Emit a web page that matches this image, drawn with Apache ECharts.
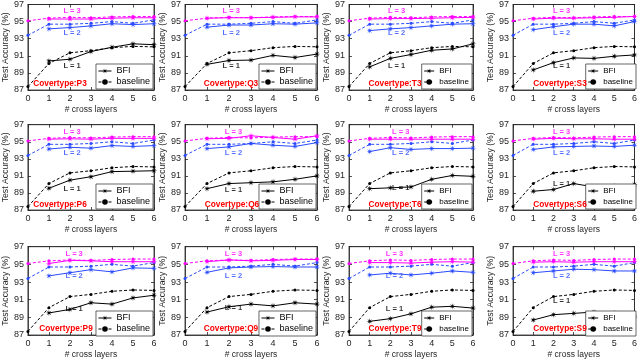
<!DOCTYPE html>
<html><head><meta charset="utf-8">
<script src="https://cdn.jsdelivr.net/npm/echarts@6/dist/echarts.min.js"></script>
<style>html,body{margin:0;padding:0;background:#fff}#c{width:640px;height:360px}</style>
</head><body><div id="c"></div>
<script>
// ---- data ----
const xTicks = [0, 1, 2, 3, 4, 5, 6];
const yTicks = [87, 89, 91, 93, 95, 97];
const panelNames = ['Covertype:P3','Covertype:Q3','Covertype:T3','Covertype:S3',
                    'Covertype:P6','Covertype:Q6','Covertype:T6','Covertype:S6',
                    'Covertype:P9','Covertype:Q9','Covertype:T9','Covertype:S9'];
const levelNames = ['L = 1', 'L = 2', 'L = 3'];
// baseline (x = 0..6), same in all panels
const baselineL1 = [87.4, 90.1, 91.35, 91.6, 91.95, 92.1, 92.05];
const baselineL2 = [93.4, 94.7, 94.7, 94.8, 95.0, 94.8, 95.2];
const baselineL3 = [95.1, 95.4, 95.5, 95.45, 95.55, 95.6, 95.6];
// BFI (x = 1..6), one row per panel
const bfiL1 = [
  [90.4, 90.6, 91.5, 92.0, 92.4, 92.3],
  [90.0, 90.45, 90.5, 91.05, 90.8, 91.2],
  [89.7, 90.7, 91.15, 91.65, 91.8, 92.4],
  [89.35, 90.2, 90.75, 90.7, 90.95, 91.1],
  [89.55, 90.5, 90.9, 91.5, 91.55, 91.6],
  [89.5, 90.1, 90.2, 90.3, 90.6, 91.0],
  [89.5, 89.6, 89.7, 90.6, 91.05, 90.95],
  [89.2, 89.4, 90.1, 89.7, 89.8, 90.0],
  [89.5, 89.9, 90.65, 90.5, 91.2, 91.5],
  [89.6, 90.2, 90.5, 90.3, 90.65, 90.5],
  [88.55, 88.85, 89.4, 90.15, 90.25, 90.05],
  [88.7, 89.3, 89.45, 89.6, 89.5, 89.05]
];
const bfiL2 = [
  [94.15, 94.3, 94.5, 94.75, 94.65, 94.75],
  [94.35, 94.6, 94.6, 94.75, 94.7, 94.85],
  [93.95, 94.15, 94.3, 94.5, 94.7, 94.75],
  [94.05, 94.4, 94.7, 94.7, 94.5, 95.0],
  [94.15, 94.35, 94.25, 94.55, 94.45, 94.55],
  [94.2, 94.4, 94.8, 94.6, 94.45, 94.9],
  [93.85, 94.3, 94.1, 94.2, 94.2, 94.25],
  [94.1, 94.4, 94.45, 94.5, 94.45, 94.6],
  [93.7, 94.05, 94.4, 94.15, 94.6, 94.55],
  [94.1, 94.6, 94.7, 94.75, 94.7, 94.7],
  [93.8, 94.0, 93.8, 94.0, 94.25, 94.1],
  [94.05, 94.25, 94.45, 94.4, 94.25, 94.25]
];
const bfiL3 = [
  [95.3, 95.3, 95.3, 95.4, 95.45, 95.45],
  [95.4, 95.45, 95.45, 95.5, 95.55, 95.55],
  [95.3, 95.35, 95.35, 95.4, 95.45, 95.5],
  [95.3, 95.4, 95.4, 95.45, 95.5, 95.6],
  [95.3, 95.35, 95.3, 95.4, 95.4, 95.4],
  [95.35, 95.4, 95.7, 95.5, 95.3, 95.7],
  [95.3, 95.3, 95.3, 95.3, 95.3, 95.3],
  [95.3, 95.4, 95.35, 95.35, 95.3, 95.3],
  [95.1, 95.45, 95.4, 95.3, 95.3, 95.3],
  [95.3, 95.5, 95.4, 95.45, 95.55, 95.55],
  [95.2, 95.2, 95.15, 95.25, 95.3, 95.25],
  [95.25, 95.3, 95.25, 95.3, 95.3, 95.3]
];
// annotation anchors (data units)
const labelX = [2.1, 2.1, 2.3, 2.4, 2.1, 2.2, 2.5, 2.4, 2.2, 2.2, 2.2, 2.4];
const labelYL1 = [89.8, 89.8, 89.8, 89.8, 89.5, 89.4, 89.6, 90.0, 89.9, 90.1, 90.0, 90.9];
const labelYL2 = 93.7;
const labelYL3 = 96.2;

// ---- layout / style ----
const rowTop = [4, 124.7, 246.7];
const rowH = [86, 85.3, 90.3];
const colLeft = [21, 185, 349, 513];
const colW = [133, 132, 124, 124];
const legFont = [9, 9, 8, 8];
const legItemW = [13, 13, 10, 10];
const titleDX = [39, 46, 46, 47, 39, 47, 46, 47, 45, 46, 46, 47];
const titleDY = [6.5, 5, 8.5];
const colors = ['#000000', '#2a4bff', '#ff00ff'];
const axisCol = '#262626';
const FONT = '"Liberation Sans", Arial, Helvetica, sans-serif';

function starPath(n, rIn) {
  let d = '';
  for (let k = 0; k < 2 * n; k++) {
    const a = k * Math.PI / n - Math.PI / 2;
    const r = (k % 2 === 0) ? 1 : rIn;
    d += (k === 0 ? 'M' : 'L') + (r * Math.cos(a)).toFixed(3) + ',' + (r * Math.sin(a)).toFixed(3);
  }
  return 'path://' + d + 'Z';
}
const STAR = starPath(8, 0.3);

const grids = [], xAxes = [], yAxes = [], series = [], titles = [], legends = [];
const baselines = [baselineL1, baselineL2, baselineL3];
const bfis = [bfiL1, bfiL2, bfiL3];

for (let i = 0; i < 12; i++) {
  const r = Math.floor(i / 4), c = i % 4;
  const left = colLeft[c], top = rowTop[r], w = colW[c], h = rowH[r];
  grids.push({ left, top, width: w, height: h, show: true, borderColor: axisCol, borderWidth: 0.8, backgroundColor: 'transparent' });
  const lineS = { color: axisCol, width: 0.8 };
  xAxes.push({
    gridIndex: i, type: 'value', min: xTicks[0], max: xTicks[xTicks.length - 1], interval: 1,
    axisLine: { show: true, onZero: false, lineStyle: lineS },
    axisTick: { inside: true, length: 3, lineStyle: lineS },
    splitLine: { show: false },
    axisLabel: { fontSize: 9, margin: 4, color: axisCol, fontFamily: FONT },
    name: '# cross layers', nameLocation: 'middle', nameGap: 15,
    nameTextStyle: { fontSize: 8.5, color: axisCol, fontFamily: FONT }
  });
  xAxes.push({
    gridIndex: i, type: 'value', position: 'top', min: 0, max: 6, interval: 1,
    axisLine: { show: true, onZero: false, lineStyle: lineS },
    axisTick: { inside: true, length: 3, lineStyle: lineS },
    splitLine: { show: false }, axisLabel: { show: false }
  });
  yAxes.push({
    gridIndex: i, type: 'value', min: yTicks[0], max: yTicks[yTicks.length - 1], interval: 2,
    axisLine: { show: true, onZero: false, lineStyle: lineS },
    axisTick: { inside: true, length: 3, lineStyle: lineS },
    splitLine: { show: false },
    axisLabel: { fontSize: 9, margin: 4, color: axisCol, fontFamily: FONT },
    name: 'Test Accuracy (%)', nameLocation: 'middle', nameGap: 12,
    nameTextStyle: { fontSize: 8.7, color: axisCol, fontFamily: FONT }
  });
  yAxes.push({
    gridIndex: i, type: 'value', position: 'right', min: 87, max: 97, interval: 2,
    axisLine: { show: true, onZero: false, lineStyle: lineS },
    axisTick: { inside: true, length: 3, lineStyle: lineS },
    splitLine: { show: false }, axisLabel: { show: false }
  });
  const xi = 2 * i, yi = 2 * i;
  for (let L = 0; L < 3; L++) {
    const col = colors[L];
    series.push({
      type: 'line', name: 'baseline', xAxisIndex: xi, yAxisIndex: yi,
      data: baselines[L].map((v, k) => [xTicks[k], v]),
      symbol: 'circle', symbolSize: 3, showSymbol: true,
      lineStyle: { color: col, width: 1, type: [3, 2] },
      itemStyle: { color: col, borderWidth: 0 },
      silent: true, animation: false, z: 2
    });
    series.push({
      type: 'line', name: 'BFI', xAxisIndex: xi, yAxisIndex: yi,
      data: bfis[L][i].map((v, k) => [xTicks[k + 1], v]),
      symbol: STAR, symbolSize: 6.5, showSymbol: true,
      lineStyle: { color: col, width: 1 },
      itemStyle: { color: col },
      silent: true, animation: false, z: 3
    });
  }
  const lblPts = [[labelX[i], labelYL1[i]], [labelX[i], labelYL2], [labelX[i], labelYL3]];
  for (let L = 0; L < 3; L++) {
    series.push({
      type: 'scatter', name: 'lbl', xAxisIndex: xi, yAxisIndex: yi,
      data: [lblPts[L]], symbolSize: 0, silent: true, animation: false, z: 5,
      label: { show: true, position: 'inside', formatter: levelNames[L], color: colors[L],
               fontSize: 7.5, fontWeight: 'bold', fontFamily: FONT }
    });
  }
  titles.push({
    text: panelNames[i], left: left + titleDX[i], top: top + h - titleDY[r] - 5,
    textAlign: 'center', padding: 0,
    textStyle: { fontSize: 8.3, fontWeight: 'bold', color: '#ff0000', fontFamily: FONT, lineHeight: 10 }
  });
  legends.push({
    orient: 'vertical', right: 640 - (left + w) + 1, bottom: 360 - (top + h) + 1,
    backgroundColor: '#ffffff', borderColor: axisCol, borderWidth: 0.7,
    padding: [2, 3, 2, 2], itemGap: 1, itemWidth: legItemW[c], itemHeight: 7,
    selectedMode: false,
    textStyle: { fontSize: legFont[c], color: '#000', fontFamily: FONT, lineHeight: 10 },
    data: [
      { name: 'BFI', itemStyle: { color: '#000' }, lineStyle: { color: '#000', width: 1, type: 'solid' } },
      { name: 'baseline', itemStyle: { color: '#000' }, lineStyle: { color: '#000', width: 1, type: [3, 2] } }
    ]
  });
}

const chart = echarts.init(document.getElementById('c'), null, { renderer: 'canvas' });
chart.setOption({
  animation: false,
  backgroundColor: '#ffffff',
  textStyle: { fontFamily: FONT },
  title: titles,
  legend: legends,
  grid: grids,
  xAxis: xAxes,
  yAxis: yAxes,
  series: series
});
</script>
</body></html>
